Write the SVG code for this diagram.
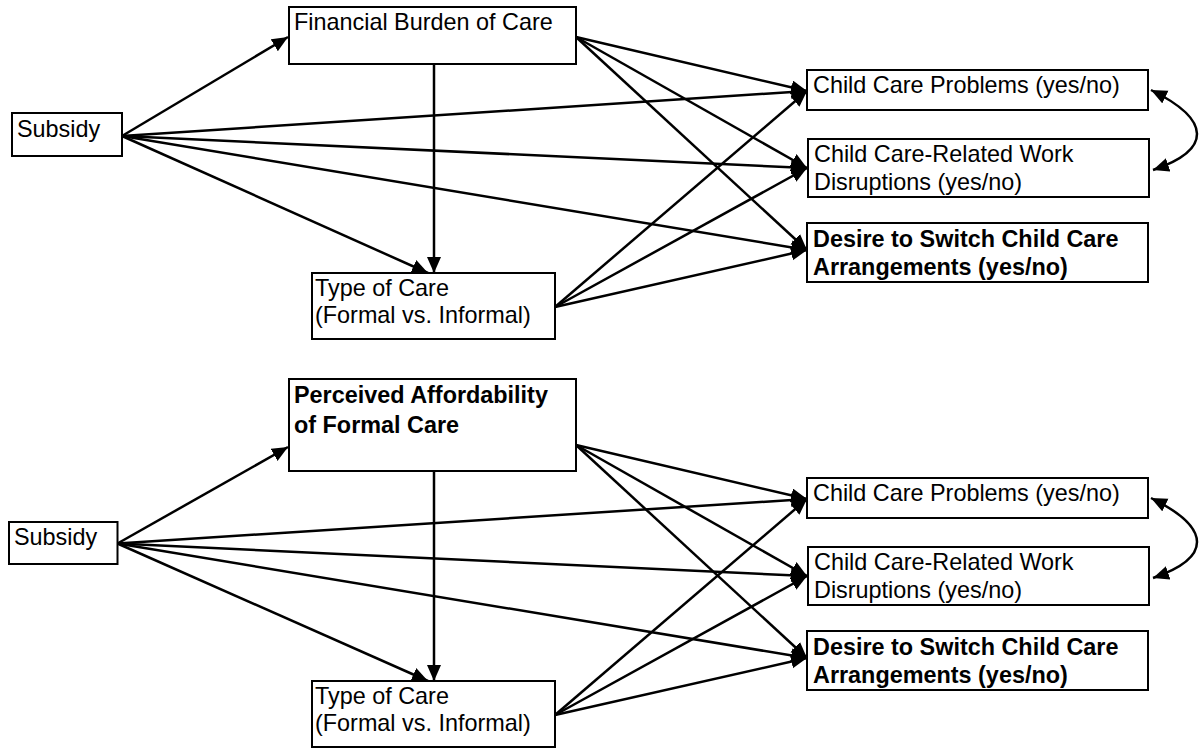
<svg xmlns="http://www.w3.org/2000/svg" width="1199" height="748" viewBox="0 0 1199 748">
<style>
.box{fill:#fff;stroke:#000;stroke-width:2}
.t{font-family:"Liberation Sans",Arial,sans-serif;font-size:23.4px;fill:#000}
.b{font-weight:bold}
.c{fill:none;stroke:#000;stroke-width:2.5}
</style>
<defs>
<marker id="ah" markerUnits="userSpaceOnUse" markerWidth="18" markerHeight="16" refX="16" refY="7" orient="auto-start-reverse">
<path d="M0,0 L16,7 L0,14 z" fill="#000"/>
</marker>
</defs>
<rect width="1199" height="748" fill="#fff"/>

<g id="connectors">
<!-- top -->
<line class="c" x1="122" y1="136" x2="288" y2="37" marker-end="url(#ah)"/>
<line class="c" x1="122" y1="136" x2="428" y2="273" marker-end="url(#ah)"/>
<line class="c" x1="122" y1="136" x2="807" y2="91" marker-end="url(#ah)"/>
<line class="c" x1="122" y1="136" x2="807" y2="168" marker-end="url(#ah)"/>
<line class="c" x1="122" y1="136" x2="807" y2="250" marker-end="url(#ah)"/>
<line class="c" x1="434" y1="64" x2="434" y2="273" marker-end="url(#ah)"/>
<line class="c" x1="576" y1="37" x2="807" y2="91" marker-end="url(#ah)"/>
<line class="c" x1="576" y1="37" x2="807" y2="168" marker-end="url(#ah)"/>
<line class="c" x1="576" y1="37" x2="807" y2="250" marker-end="url(#ah)"/>
<line class="c" x1="555" y1="307" x2="807" y2="91" marker-end="url(#ah)"/>
<line class="c" x1="555" y1="307" x2="807" y2="168" marker-end="url(#ah)"/>
<line class="c" x1="555" y1="307" x2="807" y2="250" marker-end="url(#ah)"/>
<path class="c" d="M1151,90 C1212,120 1212,150 1153,170" marker-start="url(#ah)" marker-end="url(#ah)"/>
<!-- bottom -->
<line class="c" x1="117.5" y1="543.5" x2="288" y2="447" marker-end="url(#ah)"/>
<line class="c" x1="117.5" y1="543.5" x2="428" y2="681" marker-end="url(#ah)"/>
<line class="c" x1="117.5" y1="543.5" x2="807" y2="499" marker-end="url(#ah)"/>
<line class="c" x1="117.5" y1="543.5" x2="807" y2="576" marker-end="url(#ah)"/>
<line class="c" x1="117.5" y1="543.5" x2="807" y2="658" marker-end="url(#ah)"/>
<line class="c" x1="434" y1="471" x2="434" y2="681" marker-end="url(#ah)"/>
<line class="c" x1="576" y1="445" x2="807" y2="499" marker-end="url(#ah)"/>
<line class="c" x1="576" y1="445" x2="807" y2="576" marker-end="url(#ah)"/>
<line class="c" x1="576" y1="445" x2="807" y2="658" marker-end="url(#ah)"/>
<line class="c" x1="555" y1="715" x2="807" y2="499" marker-end="url(#ah)"/>
<line class="c" x1="555" y1="715" x2="807" y2="576" marker-end="url(#ah)"/>
<line class="c" x1="555" y1="715" x2="807" y2="658" marker-end="url(#ah)"/>
<path class="c" d="M1151,498 C1212,528 1212,558 1153,578" marker-start="url(#ah)" marker-end="url(#ah)"/>
</g>

<!-- top diagram nodes -->
<g id="subsidy1">
<rect class="box" x="12" y="113" width="110" height="43"/>
<text class="t" x="17" y="137">Subsidy</text>
</g>
<g id="burden">
<rect class="box" x="289" y="7" width="287" height="57"/>
<text class="t" x="294" y="30">Financial Burden of Care</text>
</g>
<g id="type1">
<rect class="box" x="312" y="273" width="243" height="66"/>
<text class="t" x="315" y="296">Type of Care</text>
<text class="t" x="315" y="323">(Formal vs. Informal)</text>
</g>
<g id="problems1">
<rect class="box" x="807" y="70" width="341" height="40"/>
<text class="t" x="813" y="93">Child Care Problems (yes/no)</text>
</g>
<g id="work1">
<rect class="box" x="808" y="139" width="341" height="58"/>
<text class="t" x="814" y="162">Child Care-Related Work</text>
<text class="t" x="814" y="190">Disruptions (yes/no)</text>
</g>
<g id="switch1">
<rect class="box" x="807" y="223" width="341" height="59"/>
<text class="t b" x="813" y="247">Desire to Switch Child Care</text>
<text class="t b" x="813" y="275">Arrangements (yes/no)</text>
</g>

<!-- bottom diagram nodes -->
<g id="subsidy2">
<rect class="box" x="9" y="522" width="108.5" height="42"/>
<text class="t" x="14" y="545">Subsidy</text>
</g>
<g id="afford">
<rect class="box" x="289" y="379" width="287" height="92"/>
<text class="t b" x="294" y="403">Perceived Affordability</text>
<text class="t b" x="294" y="432.5">of Formal Care</text>
</g>
<g id="type2">
<rect class="box" x="312" y="681" width="243" height="66"/>
<text class="t" x="315" y="704">Type of Care</text>
<text class="t" x="315" y="731">(Formal vs. Informal)</text>
</g>
<g id="problems2">
<rect class="box" x="807" y="478" width="341" height="40"/>
<text class="t" x="813" y="501">Child Care Problems (yes/no)</text>
</g>
<g id="work2">
<rect class="box" x="808" y="547" width="341" height="58"/>
<text class="t" x="814" y="570">Child Care-Related Work</text>
<text class="t" x="814" y="598">Disruptions (yes/no)</text>
</g>
<g id="switch2">
<rect class="box" x="807" y="631" width="341" height="59"/>
<text class="t b" x="813" y="655">Desire to Switch Child Care</text>
<text class="t b" x="813" y="683">Arrangements (yes/no)</text>
</g>
</svg>
